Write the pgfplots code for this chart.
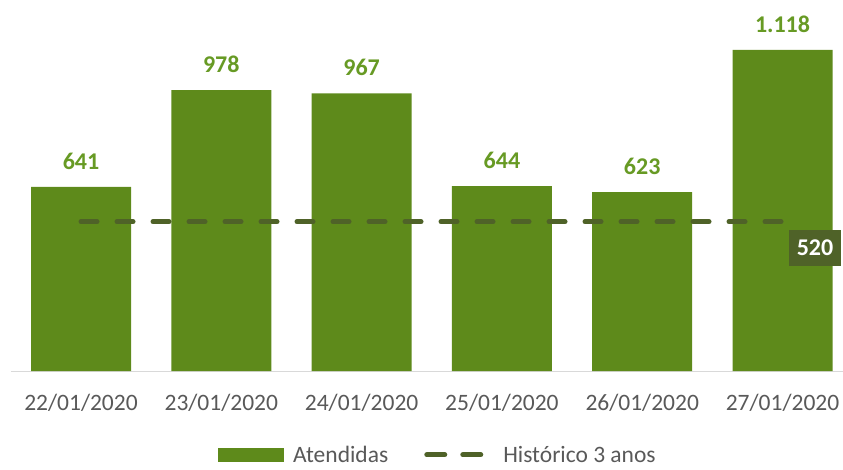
\documentclass[border=0pt]{standalone}
\usepackage{pgfplots}
\pgfplotsset{compat=1.18}
\usepackage{fontspec}
\setmainfont{Carlito}
\definecolor{barg}{HTML}{5E8A1B}
\definecolor{labg}{HTML}{679A24}
\definecolor{dashg}{HTML}{4F6228}
\definecolor{tickg}{HTML}{595959}
\definecolor{axg}{HTML}{D9D9D9}
\begin{document}
\begin{tikzpicture}
\path[use as bounding box] (-10.85pt,-98pt) rectangle (832.15pt,371pt);
\begin{axis}[
  at={(0pt,0pt)}, anchor=south west,
  scale only axis, width=832.15pt, height=371pt,
  xmin=-0.5, xmax=5.431, ymin=0, ymax=1292,
  clip=false,
  axis y line=none,
  axis x line*=bottom,
  x axis line style={draw=axg, line width=1pt, -},
  xtick={0,1,2,3,4,5},
  xticklabels={22/01/2020,23/01/2020,24/01/2020,25/01/2020,26/01/2020,27/01/2020},
  major tick length=0pt,
  xticklabel style={anchor=base, yshift=-39pt, text=tickg, font=\fontsize{23.5}{28}\selectfont, inner sep=0pt},
  /pgf/number format/assume math mode=true,
  /pgf/number format/1000 sep={.},
  legend columns=2,
  legend style={at={(rel axis cs:0.512,-0.226)}, anchor=center, draw=none, fill=none,
    font=\fontsize{23.5}{28}\selectfont, text=tickg,
    nodes={inner sep=0pt},
    /tikz/every even column/.append style={column sep=36pt}},
]
\addplot[ybar, bar width=100pt, fill=barg, draw=none,
  nodes near coords,
  nodes near coords style={anchor=south, inner sep=0pt, yshift=17pt, text=labg, font=\fontsize{24}{28}\bfseries\selectfont},
  legend image code/.code={\fill[barg] (0pt,-7pt) rectangle (66pt,7pt); \path[draw=none, fill=none] (0pt,0pt) -- (75pt,0pt);}]
  coordinates {(0,641) (1,978) (2,967) (3,644) (4,623) (5,1118)};
\addlegendentry{Atendidas}
\addplot[color=dashg, line width=5pt, line cap=round, dash pattern=on 16pt off 20pt,
  legend image code/.code={\draw[dashg, line width=5pt, line cap=round, dash pattern=on 18pt off 18pt] (2.5pt,0pt) -- (56.5pt,0pt); \path[draw=none, fill=none] (0pt,0pt) -- (79pt,0pt);}]
  coordinates {(0,520) (5,520)}
  node[pos=1, anchor=north west, xshift=4pt, yshift=-6pt, fill=dashg, text=white, minimum width=52pt, minimum height=36pt, inner sep=0pt, font=\fontsize{24}{28}\bfseries\selectfont] {520};
\addlegendentry{Histórico 3 anos}
\end{axis}
\end{tikzpicture}
\end{document}
